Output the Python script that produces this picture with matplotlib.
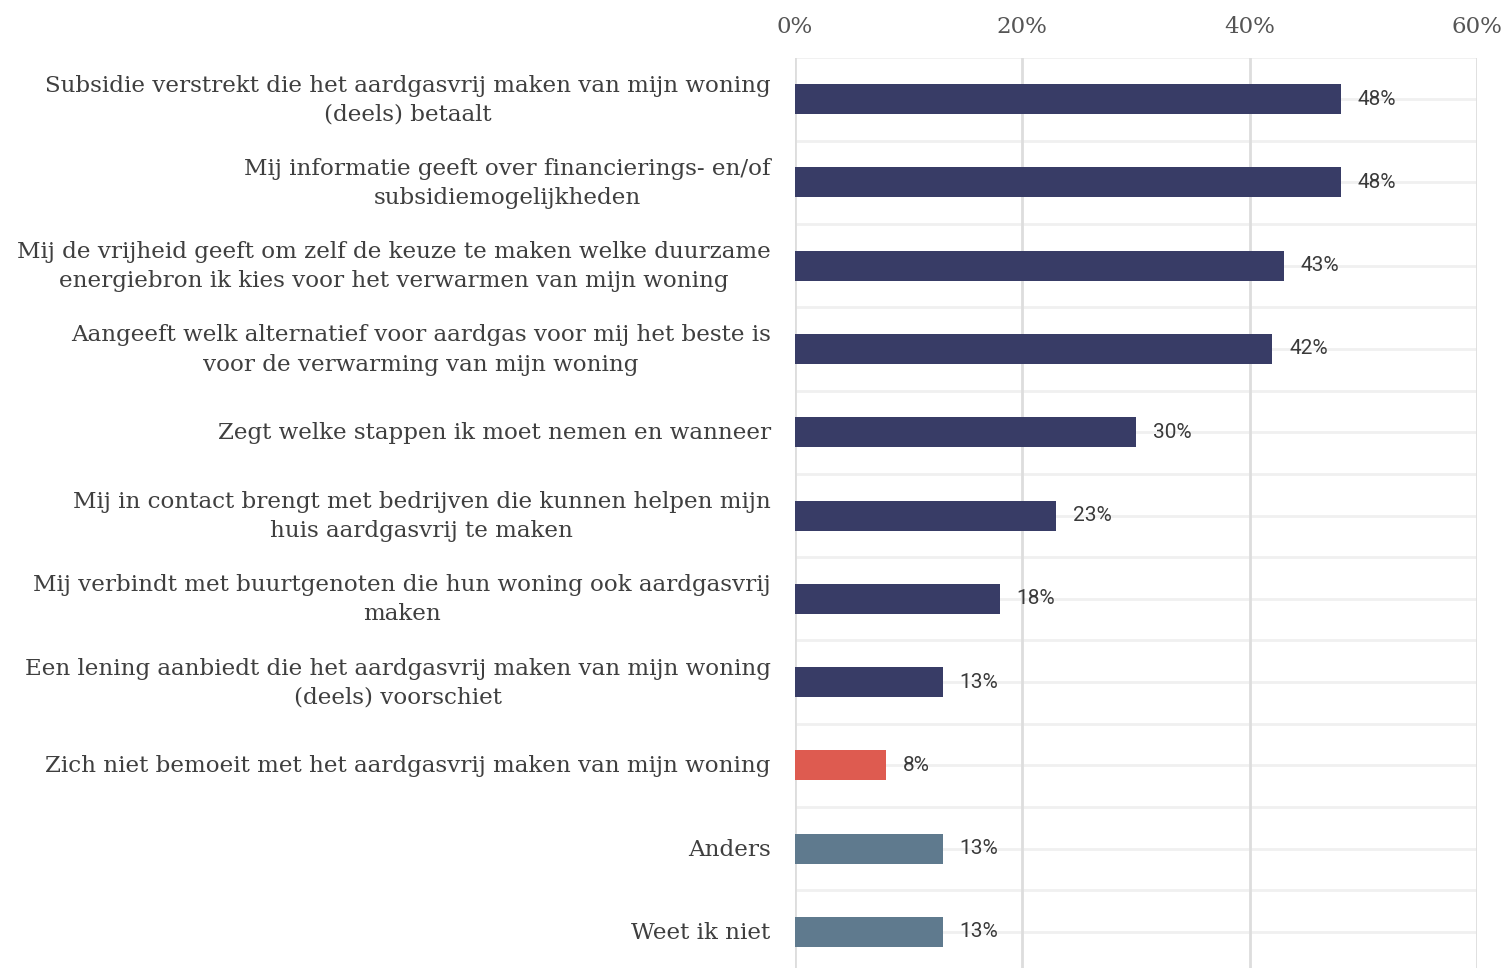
import matplotlib.pyplot as plt
from matplotlib.ticker import FixedLocator
from matplotlib.transforms import ScaledTranslation

labels = [
    "Subsidie verstrekt die het aardgasvrij maken van mijn woning\n(deels) betaalt",
    "Mij informatie geeft over financierings- en/of\nsubsidiemogelijkheden",
    "Mij de vrijheid geeft om zelf de keuze te maken welke duurzame\nenergiebron ik kies voor het verwarmen van mijn woning",
    "Aangeeft welk alternatief voor aardgas voor mij het beste is\nvoor de verwarming van mijn woning",
    "Zegt welke stappen ik moet nemen en wanneer",
    "Mij in contact brengt met bedrijven die kunnen helpen mijn\nhuis aardgasvrij te maken",
    "Mij verbindt met buurtgenoten die hun woning ook aardgasvrij\nmaken",
    "Een lening aanbiedt die het aardgasvrij maken van mijn woning\n(deels) voorschiet",
    "Zich niet bemoeit met het aardgasvrij maken van mijn woning",
    "Anders",
    "Weet ik niet",
]
values = [48, 48, 43, 42, 30, 23, 18, 13, 8, 13, 13]
groups = ["main"] * 8 + ["neg", "other", "other"]
group_colors = {"main": "#383c66", "neg": "#de5b50", "other": "#5f7a8e"}
xticks = [0, 20, 40, 60]

fig = plt.figure(figsize=(15.09, 9.68), dpi=100)
ax = fig.add_axes([795 / 1509, 0, (1477 - 795) / 1509, (968 - 57.5) / 968])

ypos = list(range(len(values)))
colors = [group_colors[g] for g in groups]
ax.barh(ypos, values, height=0.36, color=colors, zorder=3)

ax.set_xlim(0, 60)
ax.set_ylim(10.5 - 5.6 / 83.3, -0.5)

# grid: vertical at ticks, light horizontal at row centers and boundaries
for x in xticks:
    ax.axvline(x, color="#dddddd", lw=2, zorder=1)
for i in range(len(values) + 1):
    ax.axhline(i - 0.5, color="#f0f0f0", lw=2, zorder=0)
for i in ypos:
    ax.axhline(i, color="#f0f0f0", lw=2, zorder=0)

for s in ax.spines.values():
    s.set_visible(False)

ax.xaxis.tick_top()
ax.xaxis.set_major_locator(FixedLocator(xticks))
ax.set_xticklabels([f"{x}%" for x in xticks], family="DejaVu Serif",
                   fontsize=16.5, color="#555555")
ax.tick_params(axis="x", length=0, pad=14)

ax.set_yticks(ypos)
ax.set_yticklabels(labels, family="DejaVu Serif", fontsize=16.6,
                   color="#3f3f3f", multialignment="center", linespacing=1.42)
ax.tick_params(axis="y", length=0, pad=17.5)

# two-line labels sit a little high in the original
shift_two = ScaledTranslation(0, 5 / 100, fig.dpi_scale_trans)
shift_one = ScaledTranslation(0, 1.5 / 100, fig.dpi_scale_trans)
for lab in ax.get_yticklabels():
    sh = shift_two if "\n" in lab.get_text() else shift_one
    lab.set_transform(lab.get_transform() + sh)

for y, v in zip(ypos, values):
    ax.annotate(f"{v}%", (v, y), xytext=(12, 0), textcoords="offset points",
                ha="left", va="center", family="Roboto", fontsize=15,
                color="#3a3a3a", zorder=4)

fig.savefig("out.png", dpi=100)
